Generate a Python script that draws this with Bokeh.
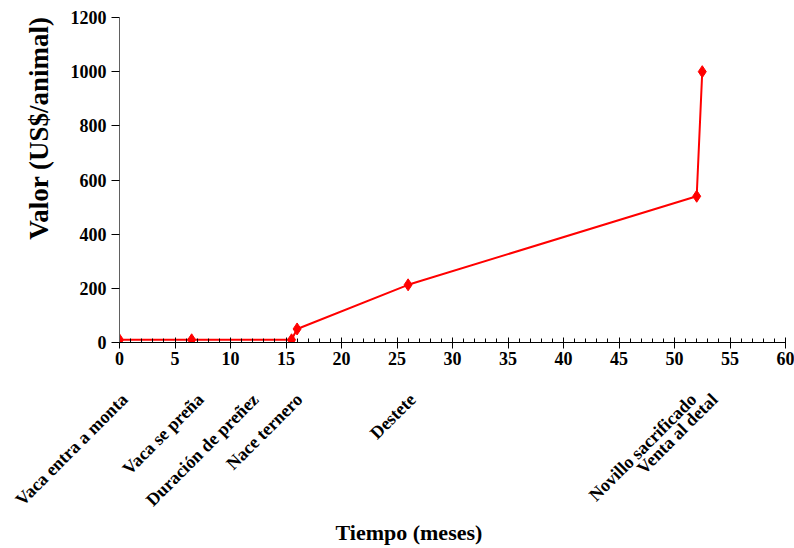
import math
from bokeh.plotting import figure
from bokeh.models import (SingleIntervalTicker, FixedTicker, Range1d, LinearAxis,
                          Title, AllLabels)
from bokeh.embed import file_html
from bokeh.resources import INLINE

# Data
months = [0, 6.5, 15.5, 16, 26, 52, 52.5]
values = [10, 10, 10, 50, 213, 540, 1000]

event_names = ["Vaca entra a monta", "Vaca se preña", "Duración de preñez",
               "Nace ternero", "Destete", "Novillo sacrificado", "Venta al detal"]

# Layout: where each rotated event label ends along the time axis (months)
label_anchor_x = [0.45, 7.3, 12.25, 16.2, 26.4, 51.7, 53.6]

FONT = "Liberation Serif"

p = figure(width=794, height=548, output_backend="svg", toolbar_location=None,
           x_range=Range1d(0, 60), y_range=Range1d(0, 1200),
           min_border_left=119, min_border_right=9, min_border_top=17,
           min_border_bottom=206)
p.outline_line_color = None
p.xgrid.grid_line_color = None
p.ygrid.grid_line_color = None
p.background_fill_color = "white"
p.border_fill_color = "white"

p.line(months, values, line_color="#ff0000", line_width=2)
p.scatter(months, values, marker="diamond", size=12, fill_color="#ff0000",
          line_color="#ff0000")

# X axis (numbers)
xa = p.xaxis[0]
xa.ticker = SingleIntervalTicker(interval=5, num_minor_ticks=5)
xa.axis_line_color = "black"
xa.major_tick_line_color = "black"
xa.minor_tick_line_color = "black"
xa.major_tick_in = 5
xa.major_tick_out = 6
xa.minor_tick_in = 4
xa.minor_tick_out = 0
xa.major_label_standoff = 3
xa.major_label_text_font = FONT
xa.major_label_text_font_style = "bold"
xa.major_label_text_font_size = "18px"
xa.major_label_text_color = "black"

# Second axis below carrying the rotated event labels
ev_axis = LinearAxis(
    ticker=FixedTicker(ticks=label_anchor_x),
    major_label_overrides={x: n for x, n in zip(label_anchor_x, event_names)},
    major_label_orientation=math.pi / 4,
    major_label_policy=AllLabels(),
    axis_line_color=None, major_tick_line_color=None, minor_tick_line_color=None,
    major_tick_in=0, major_tick_out=0,
    major_label_standoff=29,
    major_label_text_font=FONT, major_label_text_font_style="bold",
    major_label_text_font_size="18px", major_label_text_color="black",
)
p.add_layout(ev_axis, "below")

# X title
p.add_layout(Title(text="Tiempo (meses)", align="left", offset=216, standoff=-5,
                   text_font=FONT, text_font_style="bold", text_font_size="22px",
                   text_color="black"), "below")

# Y axis
ya = p.yaxis[0]
ya.ticker = SingleIntervalTicker(interval=200, num_minor_ticks=0)
ya.axis_line_color = "#606060"
ya.major_tick_line_color = "black"
ya.major_tick_in = 0
ya.major_tick_out = 8
ya.minor_tick_line_color = None
ya.major_label_standoff = 5
ya.major_label_text_font = FONT
ya.major_label_text_font_style = "bold"
ya.major_label_text_font_size = "18px"
ya.major_label_text_color = "black"

# Y title (placed toward the top, as in the reference)
p.add_layout(Title(text="Valor (US$/animal)", align="right", offset=-1, standoff=28,
                   text_font=FONT, text_font_style="bold", text_font_size="27px",
                   text_color="black"), "left")

open("out.html", "w").write(file_html(p, INLINE))
